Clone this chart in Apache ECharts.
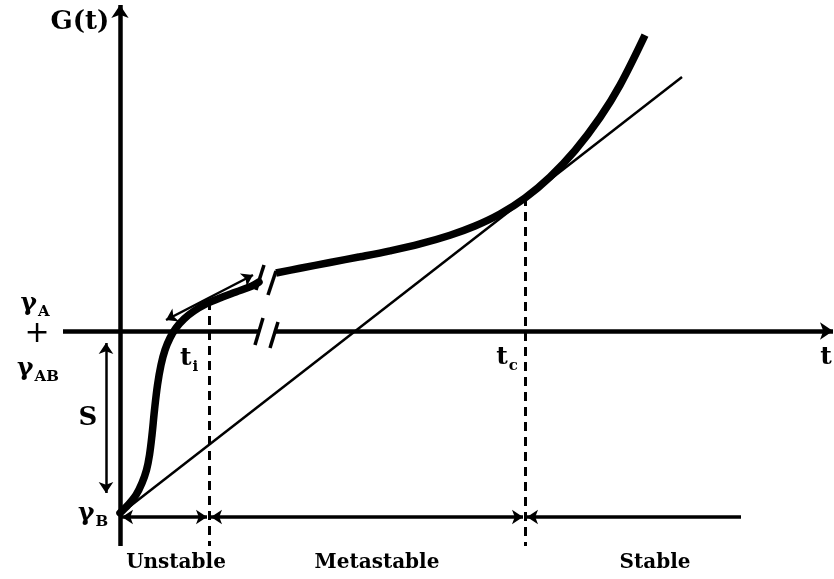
<!DOCTYPE html>
<html>
<head>
<meta charset="utf-8">
<script src="https://cdn.jsdelivr.net/npm/echarts@6/dist/echarts.min.js"></script>
<style>
  html, body { margin: 0; padding: 0; background: #ffffff; }
  #chart { width: 834px; height: 579px; }
</style>
</head>
<body>
<div id="chart"></div>
<script>
// Schematic free-energy curve G(t). Units: t to the right, G upward,
// origin where the two axes cross.

// Rapid rise from gamma_B up to the axis break
const curveBeforeBreak = [
  [0, -18.2], [0.8, -17.4], [1.6, -16.4], [2.2, -15.2], [2.65, -13.9],
  [2.95, -12.4], [3.2, -10.4], [3.45, -7.9], [3.75, -5.4], [4.1, -3.4],
  [4.5, -1.9], [5.0, -0.7], [5.6, 0.3], [6.4, 1.2], [7.4, 2.0],
  [8.6, 2.7], [10.0, 3.3], [11.6, 3.9], [13.2, 4.5], [13.9, 4.9]
];

// Slow growth after the break, then steep climb past t_c
const curveAfterBreak = [
  [15.6, 5.8], [18.0, 6.28], [21.0, 6.85], [24.0, 7.42], [27.0, 8.02],
  [30.0, 8.71], [33.0, 9.58], [35.5, 10.5], [38.0, 11.7], [40.5, 13.3],
  [43.0, 15.4], [45.5, 18.05], [48.0, 21.35], [50.0, 24.59], [52.5, 29.59]
];

// Straight line from gamma_B, tangent to the curve at t_c
const tangentLine = [[0, -18.3], [56.2, 25.4]];

// Key times
const tI = 8.9;
const tC = 40.5;
const tEnd = 62.1;

// Levels
const gammaB = -18.6;
const gTi = 3.0;
const gTc = 13.4;
const dashBottom = -21.5;

// Axis extents
const axisT = [-5.7, 71.3];
const axisG = [-21.5, 32.6];
const breakGap = [13.9, 15.4];

// Slanted break marks: [from, to]
const breakMarks = [
  [[14.4, 6.6], [13.6, 4.1]],
  [[15.6, 6.0], [14.8, 3.6]],
  [[14.3, 1.3], [13.5, -1.4]],
  [[15.8, 0.9], [15.0, -1.7]]
];

// Slope double-arrow at the inflection
const slopeArrow = [[4.6, 1.1], [13.3, 5.6]];

// S arrow (gamma_A + gamma_AB down to gamma_B)
const sArrowT = -1.4;
const sArrowG = [-1.2, -16.2];

// Text labels
const labelTexts = ['G(t)', '{g|γ}{s|A}', '+', '{g|γ}{s|AB}', '{g|γ}{s|B}', 'S',
  '{t|t}{s|i}', '{t|t}{s|c}', 't', 'Unstable', 'Metastable', 'Stable'];
const labelAnchors = [
  [-4.0, 30.9], [-8.5, 2.6], [-8.3, -0.3], [-8.2, -3.9], [-2.7, -18.4], [-3.2, -8.7],
  [6.9, -2.9], [38.7, -2.8], [70.6, -2.6], [5.6, -23.2], [25.7, -23.2], [53.5, -23.2]
];

const FONT = '"DejaVu Serif", serif';
const PLAIN = '"DejaVu Sans", sans-serif';
const INK = '#000000';

const rich = {
  g: { fontFamily: FONT, fontWeight: 'bold', fontSize: 25, lineHeight: 28, verticalAlign: 'top', color: INK },
  t: { fontFamily: FONT, fontWeight: 'bold', fontSize: 25, lineHeight: 28, verticalAlign: 'top', color: INK },
  s: { fontFamily: FONT, fontWeight: 'bold', fontSize: 15, lineHeight: 15, padding: [14, 0, 0, 1], verticalAlign: 'top', color: INK }
};

function seg(a, b) { return { coords: [a, b] }; }

function linesSeries(data, width, symbols, extra) {
  return Object.assign({
    type: 'lines',
    coordinateSystem: 'cartesian2d',
    polyline: false,
    silent: true,
    symbol: symbols || ['none', 'none'],
    symbolSize: 11,
    lineStyle: { color: INK, width: width, opacity: 1, cap: 'butt' },
    data: data
  }, extra || {});
}

const labelData = labelTexts.map(function (txt, i) {
  let size = 24, weight = 'bold', family = FONT;
  if (txt === '+') { size = 30; weight = 'normal'; family = PLAIN; }
  if (txt === 'G(t)' || txt === 'S') size = 26;
  if (txt === 't') size = 25;
  if (txt === 'Unstable' || txt === 'Metastable' || txt === 'Stable') size = 20;
  return {
    value: labelAnchors[i],
    label: { formatter: txt, fontSize: size, fontWeight: weight, fontFamily: family, color: INK }
  };
});

const chart = echarts.init(document.getElementById('chart'), null, { renderer: 'canvas' });

chart.setOption({
  backgroundColor: '#ffffff',
  animation: false,
  grid: { left: 0, right: 0, top: 0, bottom: 0 },
  xAxis: { type: 'value', min: -12, max: 71.4, show: false },
  yAxis: { type: 'value', min: -24.8, max: 33.1, show: false },
  series: [
    // axes
    linesSeries([seg([0, axisG[0]], [0, axisG[1]])], 4.5, ['none', 'arrow'], { symbolSize: 13 }),
    linesSeries([seg([axisT[0], 0], [breakGap[0], 0])], 4.5),
    linesSeries([seg([breakGap[1], 0], [axisT[1], 0])], 4.5, ['none', 'arrow'], { symbolSize: 13 }),
    // dashed guides at t_i and t_c
    linesSeries([seg([tI, gTi], [tI, dashBottom]), seg([tC, gTc], [tC, dashBottom])], 3, null,
      { lineStyle: { color: INK, width: 3, opacity: 1, type: [9, 6] } }),
    // tangent
    {
      type: 'line', data: tangentLine, showSymbol: false, silent: true,
      lineStyle: { color: INK, width: 2.5 }
    },
    // G(t)
    {
      type: 'line', data: curveBeforeBreak, smooth: 0.35, showSymbol: false, silent: true,
      lineStyle: { color: INK, width: 7.5, cap: 'round' }
    },
    {
      type: 'line', data: curveAfterBreak, smooth: 0.35, showSymbol: false, silent: true,
      lineStyle: { color: INK, width: 7.5, cap: 'butt' }
    },
    // break marks
    linesSeries(breakMarks.map(function (m) { return seg(m[0], m[1]); }), 3.5),
    // slope arrow
    linesSeries([seg(slopeArrow[0], slopeArrow[1])], 2.5, ['arrow', 'arrow'], { symbolSize: 11 }),
    // S arrow
    linesSeries([seg([sArrowT, sArrowG[0]], [sArrowT, sArrowG[1]])], 2.5, ['arrow', 'arrow'], { symbolSize: 11 }),
    // stability ranges
    linesSeries([
      seg([0.2, gammaB], [tI - 0.2, gammaB]),
      seg([tI + 0.2, gammaB], [tC - 0.2, gammaB])
    ], 3.5, ['arrow', 'arrow'], { symbolSize: 11 }),
    linesSeries([seg([tEnd, gammaB], [tC + 0.2, gammaB])], 3.5, ['none', 'arrow'], { symbolSize: 11 }),
    // labels
    {
      type: 'scatter', symbolSize: 0, silent: true,
      itemStyle: { opacity: 1 },
      label: {
        show: true, position: 'inside', color: INK, opacity: 1,
        fontFamily: FONT, fontWeight: 'bold', rich: rich
      },
      data: labelData
    }
  ]
});
</script>
</body>
</html>
